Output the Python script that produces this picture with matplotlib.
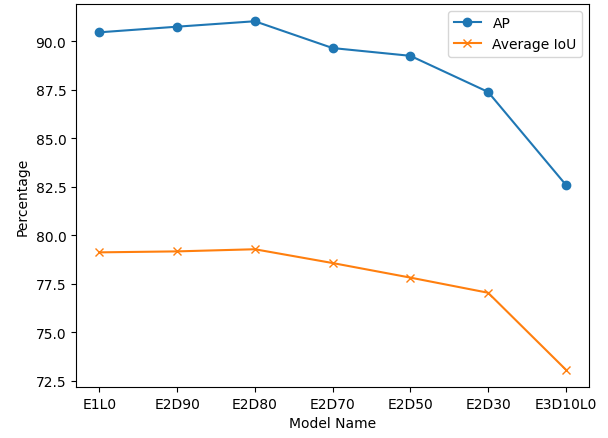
import matplotlib
matplotlib.use("Agg")
import matplotlib.pyplot as plt

models = ["E1L0", "E2D90", "E2D80", "E2D70", "E2D50", "E2D30", "E3D10L0"]
ap = [90.45, 90.74, 91.02, 89.64, 89.24, 87.38, 82.60]
avg_iou = [79.12, 79.17, 79.28, 78.57, 77.82, 77.04, 73.08]

fig = plt.figure(figsize=(6.08, 4.39), dpi=100)
ax = fig.add_axes([0.125, 0.116, 0.844, 0.873])
ax.plot(models, ap, marker="o", label="AP")
ax.plot(models, avg_iou, marker="x", label="Average IoU")
ax.set_xlabel("Model Name")
ax.set_ylabel("Percentage")
ax.legend()
fig.savefig("out.png", dpi=100)
